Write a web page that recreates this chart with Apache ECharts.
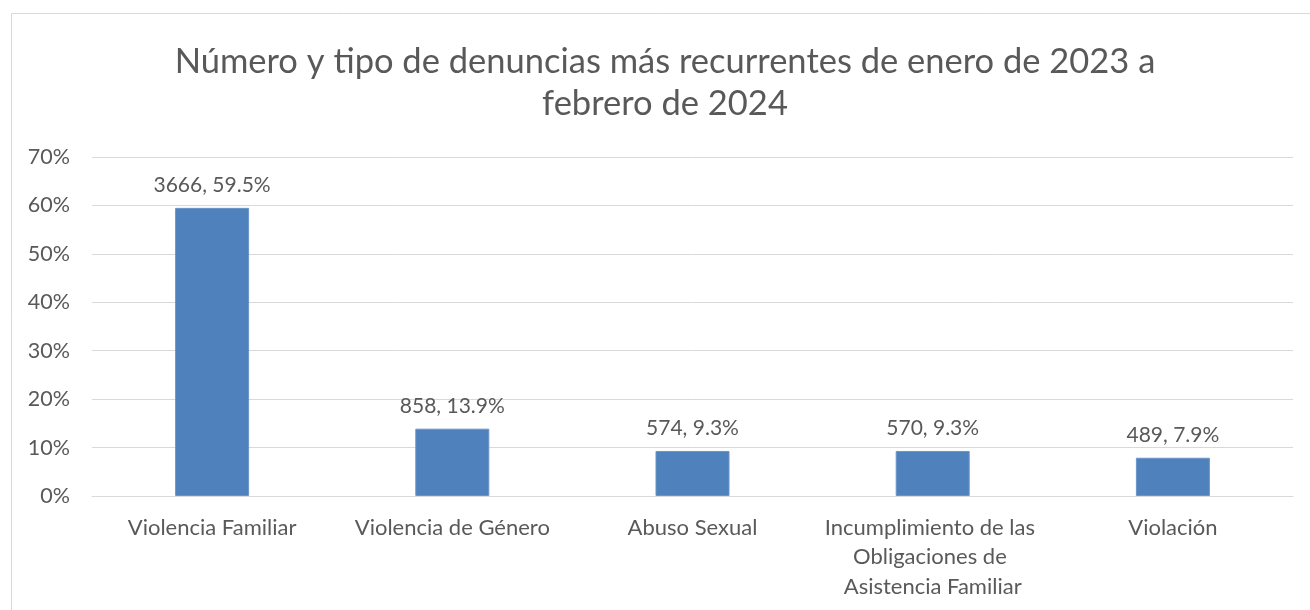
<!DOCTYPE html>
<html>
<head>
<meta charset="utf-8">
<title>Denuncias 2023-2024</title>
<script src="https://cdn.jsdelivr.net/npm/echarts@6/dist/echarts.min.js"></script>
<style>
  html, body { margin: 0; padding: 0; background: #fff; }
  #chart { width: 1310px; height: 610px; }
</style>
</head>
<body>
<div id="chart"></div>
<script>
// datos
const categorias = [
  'Violencia Familiar',
  'Violencia de Género',
  'Abuso Sexual',
  'Incumplimiento de las Obligaciones de Asistencia Familiar',
  'Violación'
]
const denuncias = [3666, 858, 574, 570, 489]
const porcentajes = [59.5, 13.9, 9.3, 9.3, 7.9]
const ticksY = [0, 10, 20, 30, 40, 50, 60, 70]

const titulo = 'Número y tipo de denuncias más recurrentes de enero de 2023 a\nfebrero de 2024'
const fuente = 'Lato'
const gris = '#595959'

const chart = echarts.init(document.getElementById('chart'))

const option = {
  animation: false,
  backgroundColor: '#fff',
  graphic: [{
    type: 'rect',
    shape: { x: 11.5, y: 13.5, width: 1330, height: 640 },
    style: { fill: 'none', stroke: '#d9d9d9', lineWidth: 1 },
    silent: true
  }, {
    // titulo centrado sobre el area del grafico (no sobre la ventana)
    type: 'text',
    x: 665,
    y: 83,
    silent: true,
    style: {
      text: titulo,
      align: 'center',
      verticalAlign: 'middle',
      fontFamily: fuente,
      fontSize: 34.5,
      lineHeight: 42,
      fill: gris
    }
  }],
  grid: { left: 92, right: 17, top: 157, bottom: 114 },
  xAxis: {
    type: 'category',
    data: categorias,
    axisLine: { lineStyle: { color: '#d9d9d9', width: 1 } },
    axisTick: { show: false },
    axisLabel: {
      interval: 0,
      margin: 17,
      fontFamily: fuente,
      fontSize: 22,
      color: gris,
      lineHeight: 29.5,
      width: 232,
      overflow: 'break'
    }
  },
  yAxis: {
    type: 'value',
    min: 0,
    max: ticksY[ticksY.length - 1],
    interval: 10,
    axisLine: { show: false },
    axisTick: { show: false },
    splitLine: { lineStyle: { color: '#d9d9d9', width: 1 } },
    axisLabel: {
      margin: 22,
      fontFamily: fuente,
      fontSize: 21.5,
      color: gris,
      formatter: v => v + '%'
    }
  },
  series: [{
    type: 'bar',
    data: porcentajes,
    barWidth: 74,
    itemStyle: { color: '#4f81bd', borderColor: '#6a95c8', borderWidth: 1 },
    label: {
      show: true,
      position: 'top',
      distance: 12,
      fontFamily: fuente,
      fontSize: 21,
      color: gris,
      formatter: p => denuncias[p.dataIndex] + ', ' + porcentajes[p.dataIndex].toFixed(1) + '%'
    }
  }]
}

chart.setOption(option)
</script>
</body>
</html>
